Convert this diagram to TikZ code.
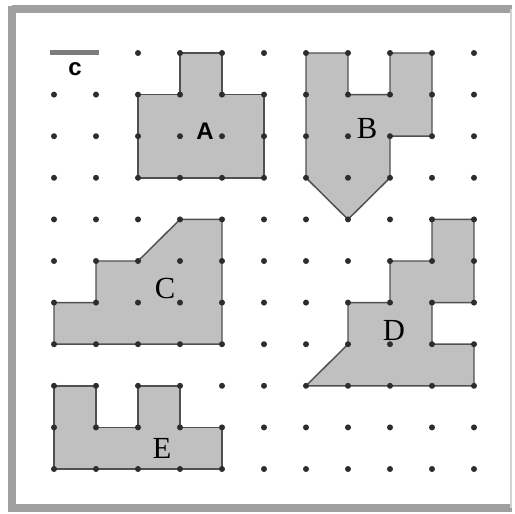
\documentclass[tikz,border=0pt]{standalone}
\usepackage{xcolor}
\usepackage{fontspec}
\setmainfont{Liberation Serif}
\setsansfont{Liberation Sans}

\definecolor{tilefill}{RGB}{192,192,192}
\definecolor{tileedge}{RGB}{80,80,80}
\definecolor{ptcolor}{RGB}{45,45,45}
\definecolor{framegray}{RGB}{160,160,160}

\tikzset{
  tile/.style={draw=tileedge, fill=tilefill, line width=1.1},
  gridpt/.style={fill=ptcolor},
  letter/.style={font=\fontsize{23}{25}\selectfont, inner sep=0pt}
}

\begin{document}
\begin{tikzpicture}[x=0.75pt,y=0.75pt,yscale=-1,xscale=1]
\useasboundingbox (0,0) rectangle (515,514);

%Shape: Frame
\fill [white] (0,0) rectangle (515,514);
\draw [framegray, line width=6] (12,8.5) -- (512,8.5) ;
\draw [framegray, line width=6] (12,5.5) -- (12,508) -- (512,508) ;
\draw [color={rgb, 255:red, 210; green, 210; blue, 210 }, line width=2] (511,8.5) -- (511,508) ;

%Shape: Polygon A
\draw [tile] (180,53) -- (222,53) -- (222,94.6) -- (264,94.6) -- (264,177.8) -- (138,177.8) -- (138,94.6) -- (180,94.6) -- cycle ;
%Shape: Polygon B
\draw [tile] (306,53) -- (348,53) -- (348,94.6) -- (390,94.6) -- (390,53) -- (432,53) -- (432,136.2) -- (390,136.2) -- (390,177.8) -- (348,219.4) -- (306,177.8) -- cycle ;
%Shape: Polygon C
\draw [tile] (180,219.4) -- (222,219.4) -- (222,344.2) -- (54,344.2) -- (54,302.6) -- (96,302.6) -- (96,261) -- (138,261) -- (180,219.4) -- cycle ;
%Shape: Polygon D
\draw [tile] (432,219.4) -- (474,219.4) -- (474,302.6) -- (432,302.6) -- (432,344.2) -- (474,344.2) -- (474,385.8) -- (306,385.8) -- (348,344.2) -- (348,302.6) -- (390,302.6) -- (390,261) -- (432,261) -- cycle ;
%Shape: Polygon E
\draw [tile] (54,385.8) -- (96,385.8) -- (96,427.4) -- (138,427.4) -- (138,385.8) -- (180,385.8) -- (180,427.4) -- (222,427.4) -- (222,469) -- (54,469) -- cycle ;

%Dots of the grid (the first two of the top row give way to the scale bar)
\foreach \i in {0,...,10}
  \foreach \j in {0,...,10}{
    \ifnum\j=0 \ifnum\i<2 \else
      \fill [gridpt] ({54+42*\i},{53+41.6*\j}) circle (3) ;
    \fi \else
      \fill [gridpt] ({54+42*\i},{53+41.6*\j}) circle (3) ;
    \fi
  }

%Straight Lines: scale bar
\coordinate (barL) at (50,52.5) ;
\coordinate (barR) at (99,52.5) ;
\draw [color={rgb, 255:red, 125; green, 125; blue, 125 }, line width=3.2] (barL) -- (barR) ;

% Text Node
\node (unitlbl) at (75,69) {\sffamily\bfseries\fontsize{18}{19}\selectfont c};
% Text Node
\node [letter, font=\sffamily\bfseries\fontsize{18}{19}\selectfont] (lblA) at (205,131) {A};
% Text Node
\node [letter] (lblB) at (367,129) {B};
% Text Node
\node [letter] (lblC) at (165,288) {C};
% Text Node
\node [letter] (lblD) at (394,330) {D};
% Text Node
\node [letter] (lblE) at (162,448) {E};

\end{tikzpicture}
\end{document}
